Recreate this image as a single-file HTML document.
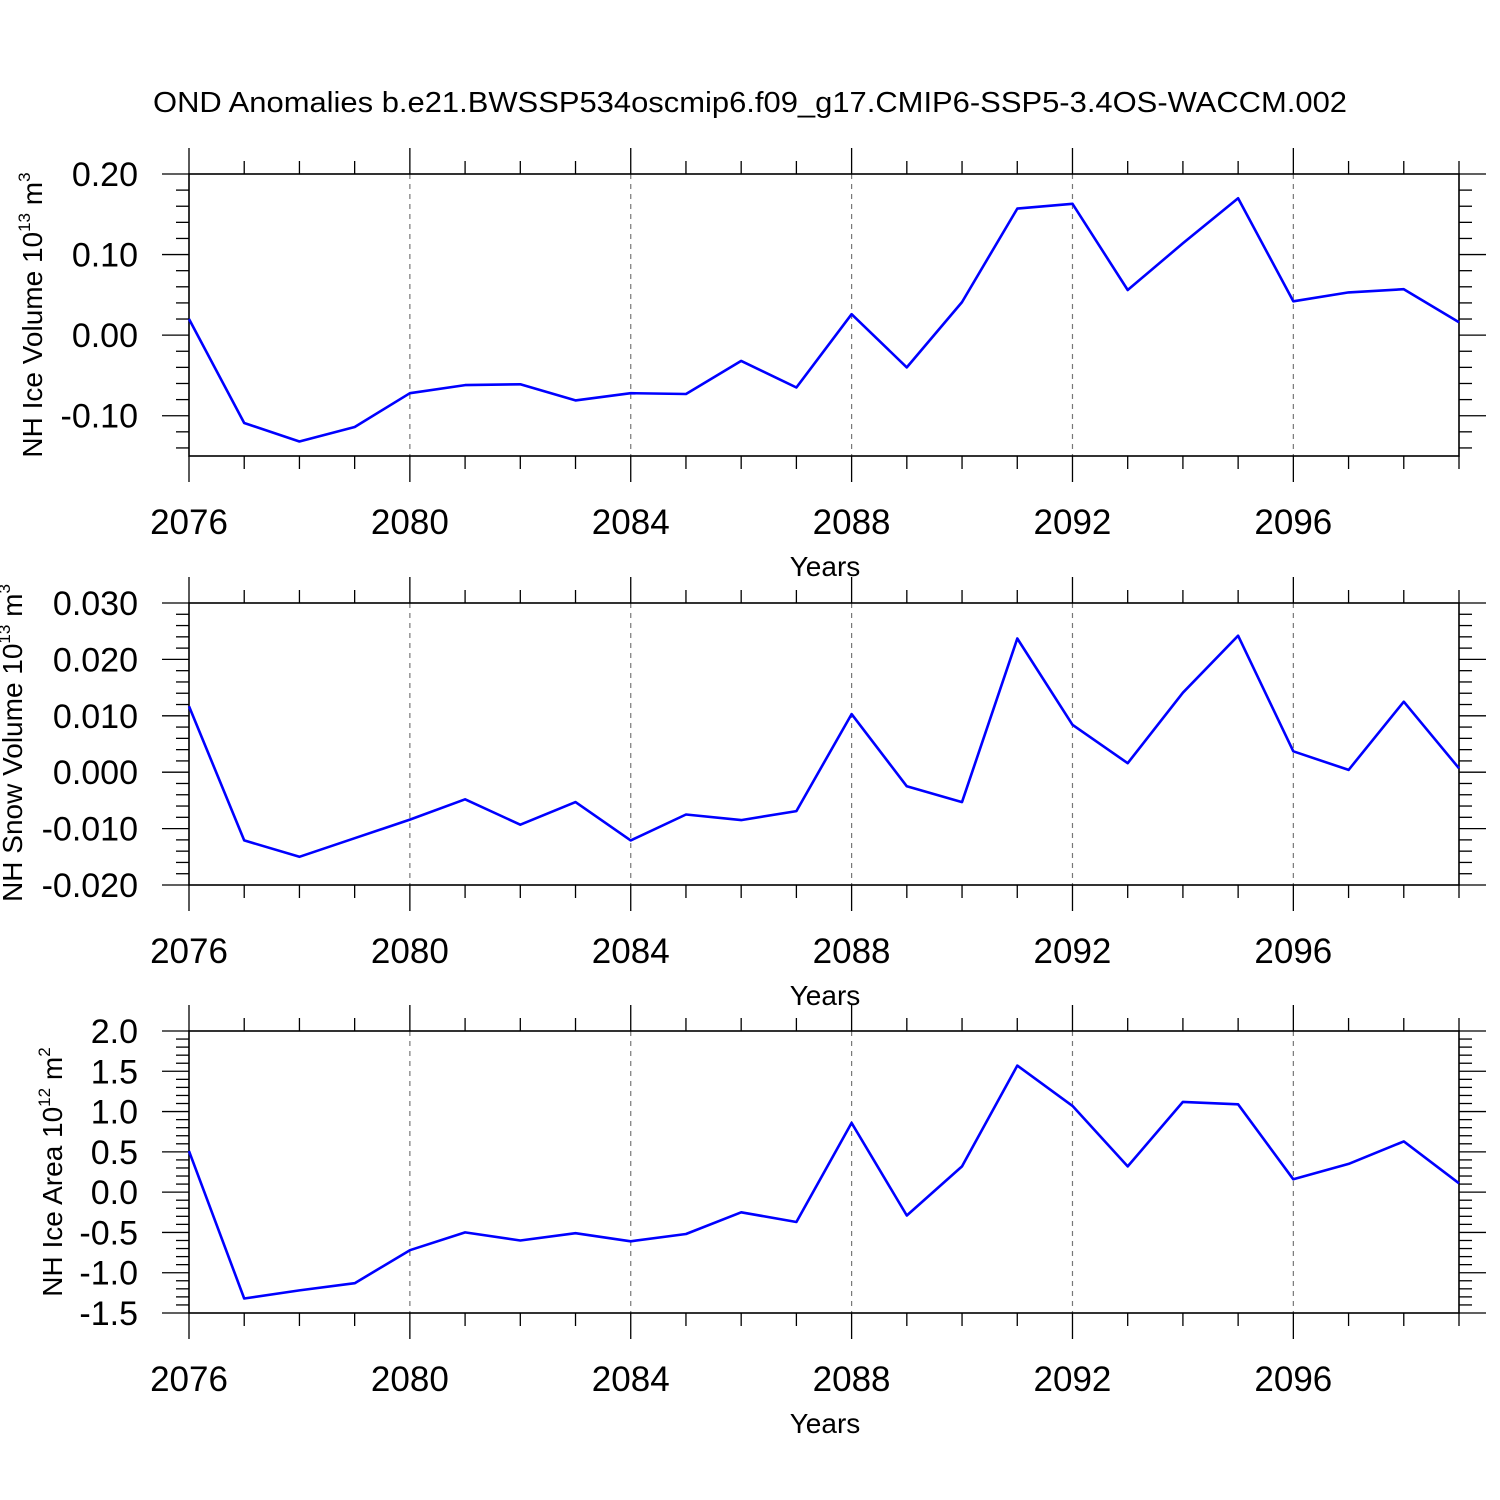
<!DOCTYPE html>
<html><head><meta charset="utf-8"><style>
html,body{margin:0;padding:0;background:#fff;}
svg{display:block;font-family:"Liberation Sans",Arial,sans-serif;}
</style></head><body>
<svg id="chart" width="1500" height="1500" viewBox="0 0 1500 1500" xmlns="http://www.w3.org/2000/svg">
<rect width="1500" height="1500" fill="#fff"/>
<text x="750" y="112" font-size="29" text-anchor="middle" textLength="1194" lengthAdjust="spacingAndGlyphs">OND Anomalies b.e21.BWSSP534oscmip6.f09_g17.CMIP6-SSP5-3.4OS-WACCM.002</text>
</svg>
<script>
const years = [2076,2077,2078,2079,2080,2081,2082,2083,2084,2085,2086,2087,2088,2089,2090,2091,2092,2093,2094,2095,2096,2097,2098,2099];
const xTickLabels = ["2076","2080","2084","2088","2092","2096"];
const iceVolume = [0.020,-0.109,-0.132,-0.114,-0.072,-0.062,-0.061,-0.081,-0.072,-0.073,-0.032,-0.065,0.026,-0.040,0.041,0.157,0.163,0.056,0.114,0.170,0.042,0.053,0.057,0.016];
const snowVolume = [0.0117,-0.0121,-0.0150,-0.0117,-0.0084,-0.0048,-0.0093,-0.0053,-0.0121,-0.0075,-0.0085,-0.0069,0.0103,-0.0025,-0.0053,0.0237,0.0084,0.0016,0.0141,0.0242,0.0037,0.0004,0.0125,0.0007];
const iceArea = [0.51,-1.32,-1.22,-1.13,-0.72,-0.50,-0.60,-0.51,-0.61,-0.52,-0.25,-0.37,0.86,-0.29,0.32,1.57,1.07,0.32,1.12,1.09,0.16,0.35,0.63,0.11];
const iceVolTicks = ["0.20","0.10","0.00","-0.10"];
const snowTicks = ["0.030","0.020","0.010","0.000","-0.010","-0.020"];
const areaTicks = ["2.0","1.5","1.0","0.5","0.0","-0.5","-1.0","-1.5"];

const NS="http://www.w3.org/2000/svg";
const svg=document.getElementById('chart');
function mk(tag,attrs,parent){const e=document.createElementNS(NS,tag);for(const k in attrs)e.setAttribute(k,attrs[k]);(parent||svg).appendChild(e);return e;}
const X0=189,X1=1459;
function xs(yr){return X0+(yr-2076)*(X1-X0)/23;}

function panel(cfg){
  const g=mk('g',{});
  
  
  const T=cfg.top,B=cfg.top+282;
  const ys=v=>T+(cfg.ymax-v)*(B-T)/(cfg.ymax-cfg.ymin);
  for(let yr=2080;yr<=2096;yr+=4){
    const l=mk('line',{x1:xs(yr),x2:xs(yr),y1:T,y2:B,stroke:'#777','stroke-width':1.2,'stroke-dasharray':'5,5'},g);
    
    
  }
  for(let yr=2076;yr<=2099;yr++){
    const maj=(yr-2076)%4===0, len=maj?26:13;
    mk('line',{x1:xs(yr),x2:xs(yr),y1:T-len,y2:T,stroke:'#000','stroke-width':1.3},g);
    mk('line',{x1:xs(yr),x2:xs(yr),y1:B,y2:B+len,stroke:'#000','stroke-width':1.3},g);
  }
  const nMin=Math.floor((cfg.ymax-cfg.ymin)/cfg.minor+1e-6);
  for(let i=0;i<=nMin;i++){
    const v=cfg.ymax-i*cfg.minor;
    const y=ys(v);
    const isMaj=cfg.labels.some(s=>Math.abs(parseFloat(s)-v)<cfg.minor/10);
    const len=isMaj?27:13;
    mk('line',{x1:X0-len,x2:X0,y1:y,y2:y,stroke:'#000','stroke-width':1.3},g);
    mk('line',{x1:X1,x2:X1+len,y1:y,y2:y,stroke:'#000','stroke-width':1.3},g);
  }
  mk('rect',{x:X0,y:T,width:X1-X0,height:B-T,fill:'none',stroke:'#000','stroke-width':1.6},g);
  cfg.labels.forEach(s=>{
    const t=mk('text',{x:X0-51,y:ys(parseFloat(s))+12,'font-size':34,'text-anchor':'end'},g);
    t.textContent=s;
    
    
  });
  xTickLabels.forEach(s=>{
    const t=mk('text',{x:xs(parseFloat(s)),y:B+78,'font-size':35,'text-anchor':'middle'},g);
    t.textContent=s;
    
    
  });
  const xt=mk('text',{x:825,y:B+120,'font-size':28,'text-anchor':'middle'},g);
  xt.textContent='Years';
  
  
  const yt=mk('text',{x:0,y:0,'font-size':28,'text-anchor':'middle',transform:`translate(${cfg.tx},${cfg.ty}) rotate(-90)`},g);
  yt.innerHTML=cfg.title;
  
  
  const pts=years.map((yr,i)=>xs(yr).toFixed(1)+','+ys(cfg.data[i]).toFixed(1)).join(' ');
  const pl=mk('polyline',{points:pts,fill:'none',stroke:'#0000ff','stroke-width':2.6,'stroke-linejoin':'round'},g);
  
  
}
panel({name:'ice-volume-panel',top:174,ymax:0.20,ymin:-0.15,minor:0.02,labels:iceVolTicks,data:iceVolume,tx:42,ty:315,
  title:'NH Ice Volume 10<tspan dy="-12" font-size="17">13</tspan><tspan dy="12"> m</tspan><tspan dy="-12" font-size="17">3</tspan>'});
panel({name:'snow-volume-panel',top:603,ymax:0.030,ymin:-0.020,minor:0.002,labels:snowTicks,data:snowVolume,tx:22,ty:743,
  title:'NH Snow Volume 10<tspan dy="-12" font-size="17">13</tspan><tspan dy="12"> m</tspan><tspan dy="-12" font-size="17">3</tspan>'});
panel({name:'ice-area-panel',top:1031,ymax:2.0,ymin:-1.5,minor:0.1,labels:areaTicks,data:iceArea,tx:62,ty:1172,
  title:'NH Ice Area 10<tspan dy="-12" font-size="17">12</tspan><tspan dy="12"> m</tspan><tspan dy="-12" font-size="17">2</tspan>'});
</script>
</body></html>
